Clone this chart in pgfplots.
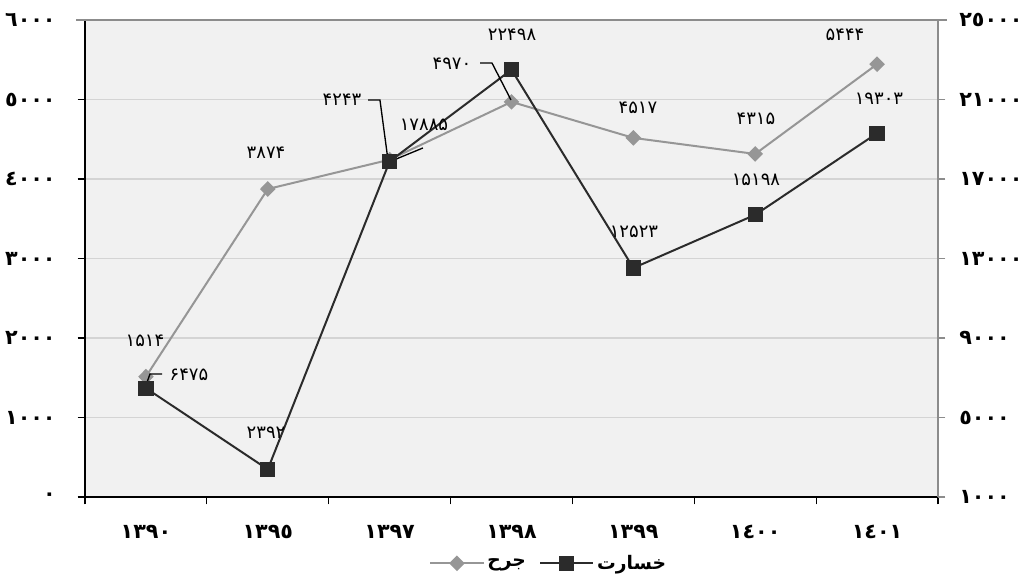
\documentclass[border=0pt]{standalone}
\usepackage{fontspec}
\usepackage{pgfplots}
\pgfplotsset{compat=1.18}
\setmainfont{DejaVu Sans}
\newfontfamily\arabicfont[Script=Arabic]{DejaVu Sans}
\TeXXeTstate=1
\definecolor{bgc}{HTML}{F1F1F1}
\definecolor{gridc}{HTML}{D4D4D4}
\definecolor{sgrey}{HTML}{969696}
\definecolor{sblack}{HTML}{2B2B2B}
\definecolor{bordc}{HTML}{8C8C8C}
\pgfplotstableread{
x y
0 1514
1 3874
2 4243
3 4970
4 4517
5 4315
6 5444
}\jarh
\pgfplotstableread{
x y
0 6475
1 2392
2 17885
3 22498
4 12523
5 15198
6 19303
}\khesarat
\newcommand{\tlab}{\arabicfont\bfseries\fontsize{15.5}{15.5}\selectfont}
\newcommand{\llab}{\arabicfont\bfseries\fontsize{14}{14}\selectfont}
\newcommand{\dlab}{\arabicfont\fontsize{13.5}{13.5}\selectfont}
\begin{document}
\begin{tikzpicture}
\useasboundingbox (0pt,0pt) rectangle (768.75pt,435pt);
\begin{axis}[
  at={(63.75pt,62.25pt)}, anchor=south west,
  scale only axis, width=639.75pt, height=357.75pt,
  xmin=-0.5, xmax=6.5, ymin=0, ymax=6000,
  axis lines*=left,
  axis line style={-, black, line width=1.2pt},
  axis background/.style={fill=bgc},
  ymajorgrids, major grid style={gridc, line width=1pt},
  xtick={0,...,6},
  xticklabels={١٣٩٠,١٣٩٥,١٣٩٧,١٣٩٨,١٣٩٩,١٤٠٠,١٤٠١},
  major x tick style={draw=none},
  minor xtick={-0.5,0.5,...,6.5},
  minor x tick style={black, line width=0.8pt},
  minor tick length=5.5pt,
  major tick length=5.5pt,
  ytick={0,1000,...,6000},
  yticklabels={٠,١٠٠٠,٢٠٠٠,٣٠٠٠,٤٠٠٠,٥٠٠٠,٦٠٠٠},
  ytick style={black, line width=0.8pt},
  tick align=outside,
  xticklabel style={font=\tlab, yshift=-12pt},
  yticklabel style={font=\tlab, xshift=-13pt},
  legend columns=2,
  legend style={at={(0.544,-0.139)}, anchor=center, draw=none, fill=none,
    font=\llab, /tikz/every even column/.append style={column sep=8pt}},
  legend image code/.code={\draw[mark repeat=2,mark phase=2,#1] plot coordinates {(0pt,0pt) (20pt,0pt) (40pt,0pt)};},
]
\addplot[sgrey, line width=1.5pt, mark=diamond*, mark size=4.8pt,
  mark options={xscale=1.33, fill=sgrey, draw=sgrey}] table[x=x,y=y] {\jarh};
\addlegendentry{\beginR جرح\endR}
\addlegendimage{sblack, line width=1.5pt, mark=square*, mark size=5pt, mark options={fill=sblack}}
\addlegendentry{\beginR خسارت\endR}
\end{axis}
\begin{axis}[
  at={(63.75pt,62.25pt)}, anchor=south west,
  scale only axis, width=639.75pt, height=357.75pt,
  xmin=-0.5, xmax=6.5, ymin=1000, ymax=25000,
  axis x line=none, axis y line*=right,
  axis line style={-, bordc, line width=1.5pt},
  ytick={1000,5000,...,25000},
  yticklabels={١٠٠٠,٥٠٠٠,٩٠٠٠,١٣٠٠٠,١٧٠٠٠,٢١٠٠٠,٢٥٠٠٠},
  scaled y ticks=false,
  ytick style={bordc, line width=0.8pt},
  major tick length=5.5pt,
  tick align=outside,
  yticklabel style={font=\tlab, xshift=7pt},
  clip=false,
]
\addplot[sblack, line width=1.5pt, mark=square*, mark size=5pt,
  mark options={fill=sblack, draw=sblack}] table[x=x,y=y] {\khesarat};
\draw[bordc, line width=1.5pt] (rel axis cs:-0.01,1) -- (rel axis cs:1.01,1);
% leader lines
\draw[black, line width=1pt] (rel axis cs:0.0703,0.2285) -- (rel axis cs:0.0762,0.2579) -- (rel axis cs:0.0903,0.2579);
\draw[black, line width=1pt] (rel axis cs:0.3318,0.8323) -- (rel axis cs:0.3458,0.8323) -- (rel axis cs:0.3552,0.7065);
\draw[black, line width=1pt] (rel axis cs:0.3564,0.7023) -- (rel axis cs:0.3962,0.7317);
\draw[black, line width=1pt] (rel axis cs:0.4631,0.9099) -- (rel axis cs:0.4771,0.9099) -- (rel axis cs:0.4994,0.8323);
% data labels
\node[font=\dlab] at (rel axis cs:0.0703,0.327) {۱۵۱۴};
\node[font=\dlab] at (rel axis cs:0.2122,0.7212) {۳۸۷۴};
\node[font=\dlab] at (rel axis cs:0.3013,0.8323) {۴۲۴۳};
\node[font=\dlab] at (rel axis cs:0.4302,0.9078) {۴۹۷۰};
\node[font=\dlab] at (rel axis cs:0.6483,0.8155) {۴۵۱۷};
\node[font=\dlab] at (rel axis cs:0.7866,0.7925) {۴۳۱۵};
\node[font=\dlab] at (rel axis cs:0.891,0.9686) {۵۴۴۴};
\node[font=\dlab] at (rel axis cs:0.1219,0.2558) {۶۴۷۵};
\node[font=\dlab] at (rel axis cs:0.2122,0.1342) {۲۳۹۲};
\node[font=\dlab] at (rel axis cs:0.3974,0.7799) {۱۷۸۸۵};
\node[font=\dlab] at (rel axis cs:0.5006,0.9686) {۲۲۴۹۸};
\node[font=\dlab] at (rel axis cs:0.6436,0.5556) {۱۲۵۲۳};
\node[font=\dlab] at (rel axis cs:0.7866,0.6646) {۱۵۱۹۸};
\node[font=\dlab] at (rel axis cs:0.9308,0.8344) {۱۹۳۰۳};
\end{axis}
\end{tikzpicture}
\end{document}
